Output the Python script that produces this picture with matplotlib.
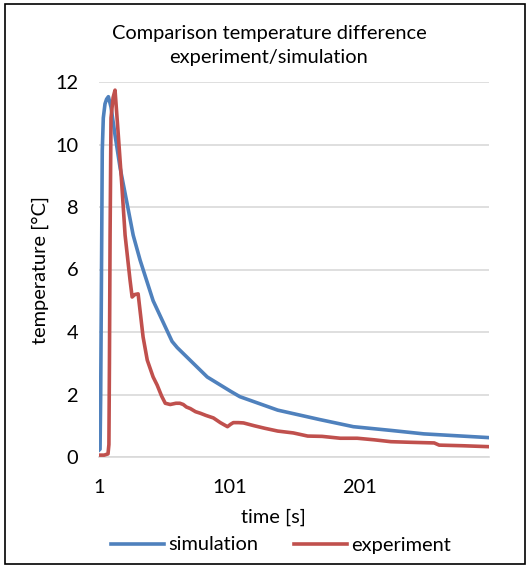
import matplotlib
matplotlib.use("Agg")
import matplotlib.pyplot as plt
from matplotlib.patches import Rectangle
from matplotlib.lines import Line2D

plt.rcParams['font.family'] = ['Lato', 'DejaVu Sans']

# simulation (time [s], temperature difference [°C])
sim_t = [1, 1.8, 2.3, 3.1, 3.5, 4.3, 5.6, 6.8, 8.2, 10.2, 13.3, 17.2, 22.3, 27.2,
         32.5, 42.5, 57, 61, 72, 84, 102, 109, 138, 170, 196, 225, 250, 275, 300]
sim_v = [0.22, 0.25, 2.0, 7.1, 9.8, 10.85, 11.3, 11.45, 11.53, 11.2, 10.3, 9.25, 8.16, 7.1,
         6.3, 5.0, 3.7, 3.5, 3.05, 2.56, 2.1, 1.93, 1.5, 1.2, 0.97, 0.85, 0.74, 0.68, 0.62]

# experiment (time [s], temperature difference [°C])
exp_t = [1, 5, 7.9, 8.6, 9.0, 9.5, 10.2, 11.8, 13.3, 15.8, 18.5, 21, 24.8, 26.4,
         28.5, 31, 34.8, 38, 42.5, 45.6, 49, 51.8, 55.6, 60, 63, 65.6, 68, 71, 75,
         78.7, 83, 88.7, 94, 99.5, 102, 104, 108, 111.8, 120, 128, 138, 150, 161,
         172, 186, 199, 212, 224.8, 240, 258, 261.8, 280, 300]
exp_v = [0.06, 0.06, 0.1, 0.4, 3.0, 7.1, 10.85, 11.5, 11.74, 10.3, 8.7, 7.1, 5.66, 5.12,
         5.2, 5.22, 3.84, 3.1, 2.56, 2.3, 1.95, 1.72, 1.68, 1.72, 1.72, 1.68, 1.6, 1.55, 1.45,
         1.4, 1.33, 1.25, 1.1, 0.97, 1.05, 1.1, 1.1, 1.09, 1.0, 0.92, 0.83, 0.77, 0.67,
         0.66, 0.6, 0.6, 0.55, 0.49, 0.47, 0.45, 0.38, 0.36, 0.33]

x_ticks = [1, 101, 201]
y_ticks = [0, 2, 4, 6, 8, 10, 12]

W, H = 530, 567
FS = 14.4
fig = plt.figure(figsize=(W / 100, H / 100), dpi=100)
fig.patches.append(Rectangle((5 / W, 3 / H), 520 / W, 560 / H, transform=fig.transFigure,
                             fill=False, edgecolor='black', linewidth=1.2))

ax = fig.add_axes([99 / W, 1 - 457 / H, 390 / W, 375 / H])
ax.plot(sim_t, sim_v, color='#4F81BD', lw=2.6, solid_joinstyle='round', label='simulation', zorder=3)
ax.plot(exp_t, exp_v, color='#C0504D', lw=2.6, solid_joinstyle='round', label='experiment', zorder=3)

ax.set_xlim(1, 300)
ax.set_ylim(0, 12)
ax.set_xticks(x_ticks)
ax.set_yticks(y_ticks)
ax.set_xticklabels([str(v) for v in x_ticks])
ax.set_yticklabels([str(v) for v in y_ticks])
ax.tick_params(axis='both', length=0, labelsize=FS, colors='black')
ax.tick_params(axis='y', pad=15)
ax.tick_params(axis='x', pad=16)
ax.grid(axis='y', color='#D9D9D9', lw=1.2)
ax.set_axisbelow(True)
for s in ['left', 'right', 'top']:
    ax.spines[s].set_visible(False)
ax.spines['bottom'].set_color('#D9D9D9')
ax.spines['bottom'].set_linewidth(1.2)

fig.text(269 / W, 1 - 33 / H, 'Comparison temperature difference', ha='center', va='center', fontsize=FS)
fig.text(269 / W, 1 - 58 / H, 'experiment/simulation', ha='center', va='center', fontsize=FS)
fig.text(40 / W, 1 - 270 / H, 'temperature [°C]', ha='center', va='center', rotation=90, fontsize=FS)
fig.text(273 / W, 1 - 517 / H, 'time [s]', ha='center', va='center', fontsize=FS)

handles = [Line2D([], [], color='#4F81BD', lw=2.6), Line2D([], [], color='#C0504D', lw=2.6)]
fig.legend(handles, ['simulation', 'experiment'], loc='center', bbox_to_anchor=(281 / W, 1 - 545 / H),
           ncol=2, frameon=False, fontsize=FS, handlelength=2.65, handletextpad=0.25,
           columnspacing=1.75, borderpad=0, borderaxespad=0)

fig.savefig('out.png', dpi=100)
